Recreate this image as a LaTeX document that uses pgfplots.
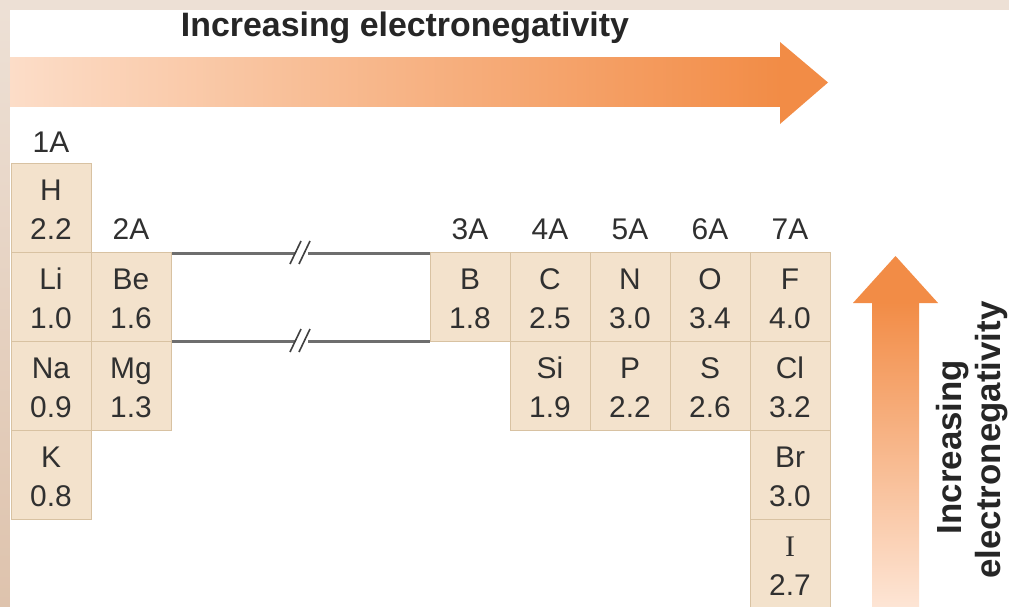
\documentclass[border=0pt]{standalone}
\usepackage{pgfplots}
\pgfplotsset{compat=1.18}
\usepackage{pgfplotstable}
\usepackage{fontspec}
\setmainfont{Liberation Sans}
\newfontfamily\serifI{Liberation Serif}
\definecolor{band}{HTML}{EDE0D5}
\definecolor{bandd}{HTML}{DEC3AD}
\definecolor{cellfill}{HTML}{F3E2CC}
\definecolor{cellborder}{HTML}{D8C2A2}
\definecolor{txt}{HTML}{303030}
\definecolor{orangeA}{HTML}{F28C46}
\definecolor{paleA}{HTML}{FCDDC8}
\definecolor{paleB}{HTML}{FDE5D5}
\definecolor{linegrey}{HTML}{6E6E6E}

\pgfplotstableread{
x top sym val
51 163 H 2.2
51 252 Li 1.0
131 252 Be 1.6
470 252 B 1.8
550 252 C 2.5
630 252 N 3.0
710 252 O 3.4
790 252 F 4.0
51 341 Na 0.9
131 341 Mg 1.3
550 341 Si 1.9
630 341 P 2.2
710 341 S 2.6
790 341 Cl 3.2
51 430 K 0.8
790 430 Br 3.0
}\cells
\pgfplotstableread{
x top sym val
790 519 I 2.7
}\iodine

\begin{document}
\begin{tikzpicture}
\begin{axis}[scale only axis, width=1009bp, height=607bp,
  xmin=0, xmax=1009, ymin=0, ymax=607, y dir=reverse,
  hide axis, clip=false]
% background and border band
\addplot[draw=none, fill=band] coordinates {(0,0) (1009,0) (1009,607) (0,607)} -- cycle;
\addplot[draw=none, top color=band, bottom color=bandd] coordinates {(0,10) (10,10) (10,607) (0,607)} -- cycle;
\addplot[draw=none, fill=white] coordinates {(10,10) (1009,10) (1009,607) (10,607)} -- cycle;
% horizontal arrow
\addplot[draw=none, left color=paleA, right color=orangeA] coordinates {(10,58) (781,58) (781,107) (10,107)} -- cycle;
\addplot[draw=none, fill=orangeA] coordinates {(780,42) (828,82.5) (780,124)} -- cycle;
% vertical arrow
\addplot[draw=none, top color=orangeA, bottom color=paleB] coordinates {(872,302) (919,302) (919,607) (872,607)} -- cycle;
\addplot[draw=none, fill=orangeA] coordinates {(853,303) (895.5,256) (938,303)} -- cycle;
% cells
\addplot[only marks, mark=none, point meta=explicit symbolic,
  nodes near coords={\phantom{x}},
  every node near coord/.append style={anchor=center, rectangle, draw=cellborder, line width=1bp, fill=cellfill, minimum width=80bp, minimum height=89bp, inner sep=0pt}]
  table[x=x, y expr=\thisrow{top}+44.5, meta=sym] {\cells};
\addplot[only marks, mark=none, point meta=explicit symbolic,
  nodes near coords={\phantom{x}},
  every node near coord/.append style={anchor=center, rectangle, draw=cellborder, line width=1bp, fill=cellfill, minimum width=80bp, minimum height=89bp, inner sep=0pt}]
  table[x=x, y expr=\thisrow{top}+44.5, meta=sym] {\iodine};
% symbols
\addplot[only marks, mark=none, point meta=explicit symbolic,
  nodes near coords,
  every node near coord/.append style={anchor=base, inner sep=0pt, text=txt, font=\fontsize{30}{34}\selectfont}]
  table[x=x, y expr=\thisrow{top}+37, meta=sym] {\cells};
\addplot[only marks, mark=none, point meta=explicit symbolic,
  nodes near coords,
  every node near coord/.append style={anchor=base, inner sep=0pt, text=txt, font=\serifI\fontsize{30}{34}\selectfont}]
  table[x=x, y expr=\thisrow{top}+37, meta=sym] {\iodine};
% values
\addplot[only marks, mark=none, point meta=explicit symbolic,
  nodes near coords,
  every node near coord/.append style={anchor=base, inner sep=0pt, text=txt, font=\fontsize{30}{34}\selectfont}]
  table[x=x, y expr=\thisrow{top}+76, meta=val] {\cells};
\addplot[only marks, mark=none, point meta=explicit symbolic,
  nodes near coords,
  every node near coord/.append style={anchor=base, inner sep=0pt, text=txt, font=\fontsize{30}{34}\selectfont}]
  table[x=x, y expr=\thisrow{top}+76, meta=val] {\iodine};
% gap lines with break marks
\addplot[linegrey, line width=3bp] coordinates {(171,253) (295,253)};
\addplot[linegrey, line width=3bp] coordinates {(308,253) (430,253)};
\addplot[linegrey, line width=3bp] coordinates {(171,341) (295,341)};
\addplot[linegrey, line width=3bp] coordinates {(308,341) (430,341)};
\addplot[black!75, line width=1.6bp] coordinates {(290,264) (301,241)};
\addplot[black!75, line width=1.6bp] coordinates {(299,264) (310,241)};
\addplot[black!75, line width=1.6bp] coordinates {(290,352) (301,329)};
\addplot[black!75, line width=1.6bp] coordinates {(299,352) (310,329)};
% texts
\node[anchor=base, inner sep=0pt, text=black!85, font=\bfseries\fontsize{34}{40}\selectfont] at (axis cs:405,37) {Increasing electronegativity};
\node[anchor=base, inner sep=0pt, text=black!85, rotate=90, font=\bfseries\fontsize{35}{40}\selectfont] at (axis cs:961,447) {Increasing};
\node[anchor=base, inner sep=0pt, text=black!85, rotate=90, font=\bfseries\fontsize{35}{40}\selectfont] at (axis cs:1000,440) {electronegativity};
\node[anchor=base, inner sep=0pt, text=txt, font=\fontsize{30}{34}\selectfont] at (axis cs:51,152) {1A};
\node[anchor=base, inner sep=0pt, text=txt, font=\fontsize{30}{34}\selectfont] at (axis cs:131,239) {2A};
\node[anchor=base, inner sep=0pt, text=txt, font=\fontsize{30}{34}\selectfont] at (axis cs:470,239) {3A};
\node[anchor=base, inner sep=0pt, text=txt, font=\fontsize{30}{34}\selectfont] at (axis cs:550,239) {4A};
\node[anchor=base, inner sep=0pt, text=txt, font=\fontsize{30}{34}\selectfont] at (axis cs:630,239) {5A};
\node[anchor=base, inner sep=0pt, text=txt, font=\fontsize{30}{34}\selectfont] at (axis cs:710,239) {6A};
\node[anchor=base, inner sep=0pt, text=txt, font=\fontsize{30}{34}\selectfont] at (axis cs:790,239) {7A};
\end{axis}
\pgfresetboundingbox
\useasboundingbox (current axis.south west) rectangle (current axis.north east);
\end{tikzpicture}
\end{document}
